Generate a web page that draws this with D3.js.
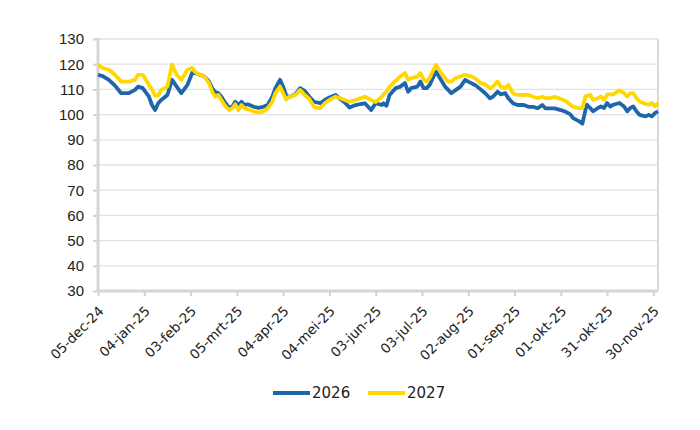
<!doctype html>
<html>
<head>
<meta charset="utf-8">
<title>2026 / 2027</title>
<script src="https://cdnjs.cloudflare.com/ajax/libs/d3/7.8.5/d3.min.js"></script>
<style>
  body { margin: 0; background: #fff; }
  text { font-family: "Liberation Sans", Arial, sans-serif; fill: #222; }
</style>
</head>
<body>
<div id="chartContainer"></div>

<script type="text/javascript">

// data
var dates = [
  "2024-12-05","2024-12-08","2024-12-12","2024-12-16","2024-12-20","2024-12-25","2024-12-29","2024-12-31",
  "2025-01-03","2025-01-07","2025-01-09","2025-01-11","2025-01-13","2025-01-15","2025-01-19","2025-01-22",
  "2025-01-25","2025-01-28","2025-02-01","2025-02-04","2025-02-06","2025-02-09","2025-02-12","2025-02-15",
  "2025-02-17","2025-02-19","2025-02-21","2025-02-23","2025-02-25","2025-02-28","2025-03-02","2025-03-04",
  "2025-03-06","2025-03-08","2025-03-10","2025-03-12","2025-03-16","2025-03-19","2025-03-22","2025-03-25",
  "2025-03-28","2025-03-30","2025-04-02","2025-04-04","2025-04-06","2025-04-08","2025-04-12","2025-04-15",
  "2025-04-18","2025-04-21","2025-04-24","2025-04-28","2025-05-01","2025-05-04","2025-05-08","2025-05-11",
  "2025-05-14","2025-05-17","2025-05-21","2025-05-24","2025-05-27","2025-05-31","2025-06-03","2025-06-07",
  "2025-06-08","2025-06-10","2025-06-12","2025-06-16","2025-06-19","2025-06-22","2025-06-24","2025-06-26",
  "2025-06-30","2025-07-02","2025-07-04","2025-07-06","2025-07-08","2025-07-12","2025-07-14","2025-07-16",
  "2025-07-18","2025-07-20","2025-07-22","2025-07-25","2025-07-28","2025-07-31","2025-08-02","2025-08-04",
  "2025-08-07","2025-08-10","2025-08-13","2025-08-16","2025-08-18","2025-08-21","2025-08-23","2025-08-26",
  "2025-08-28","2025-08-31","2025-09-03","2025-09-07","2025-09-10","2025-09-13","2025-09-16","2025-09-19",
  "2025-09-21","2025-09-24","2025-09-27","2025-10-01","2025-10-04","2025-10-07","2025-10-09","2025-10-13",
  "2025-10-15","2025-10-17","2025-10-18","2025-10-20","2025-10-22","2025-10-25","2025-10-27","2025-10-29",
  "2025-10-31","2025-11-02","2025-11-04","2025-11-08","2025-11-11","2025-11-13","2025-11-15","2025-11-17",
  "2025-11-19","2025-11-21","2025-11-25","2025-11-27","2025-11-29","2025-12-01","2025-12-03"
];

var values2026 = [
  115.8,115.3,113.8,111.5,108.5,108.5,109.8,111.1,
  110.5,107.1,103.8,101.8,104.5,105.8,107.8,113.8,
  111.1,108.5,111.8,116.5,116.5,115.8,115.1,113.1,
  110.5,108.9,108.5,107.1,105.1,102.7,103.1,105.1,
  103.8,105.1,103.8,104.1,103.1,102.7,103.1,103.8,
  107.1,110.5,113.8,111.1,107.5,107.0,108.1,110.5,
  109.4,107.1,105.1,104.5,105.8,106.8,107.8,106.2,
  104.8,102.8,103.8,104.2,104.5,101.8,104.5,103.8,
  104.5,103.5,107.8,110.5,111.1,112.5,109.1,110.5,
  111.1,113.1,110.5,110.5,111.8,117.1,115.1,113.1,
  111.1,109.8,108.5,109.8,111.1,113.8,113.1,112.5,
  111.5,110.0,108.5,106.5,107.1,109.1,108.0,108.5,
  106.5,104.5,103.8,103.8,103.1,103.1,102.5,103.8,
  102.5,102.5,102.5,101.8,101.1,100.2,98.6,97.3,
  96.4,101.9,103.9,102.6,101.3,102.6,103.2,102.6,
  104.6,103.2,103.9,104.6,103.2,101.3,102.6,103.2,
  101.3,99.9,99.3,99.9,99.3,100.6,101.3
];

var values2027 = [
  119.8,118.5,117.8,115.8,113.1,113.1,113.8,115.8,
  115.8,111.8,110.0,107.5,107.5,109.8,111.1,119.8,
  115.8,113.8,117.8,118.5,116.9,115.8,115.1,112.5,
  109.1,107.1,107.8,105.8,103.8,101.8,102.5,104.1,
  101.8,103.8,102.5,102.2,101.2,100.9,101.2,102.5,
  105.1,108.5,111.1,108.5,106.0,107.1,107.8,109.8,
  107.8,106.2,103.1,102.5,104.5,105.8,107.1,106.5,
  105.8,105.1,105.8,106.5,107.1,105.8,105.0,107.1,
  108.0,109.1,111.0,113.5,115.1,116.5,113.8,114.5,
  115.1,116.5,114.0,113.1,114.5,119.8,118.0,116.0,
  114.5,113.1,113.1,114.5,115.1,115.8,115.5,115.2,
  114.2,112.5,112.0,110.5,111.1,113.1,111.1,110.5,
  111.8,108.5,107.8,107.8,107.8,107.1,106.5,107.1,
  106.5,106.5,107.1,106.2,105.5,104.0,103.1,102.6,
  102.6,107.2,107.5,107.9,105.9,106.5,107.2,105.9,
  107.9,108.0,108.0,109.6,108.5,107.2,108.5,108.5,
  106.6,105.2,104.2,103.9,104.6,103.3,104.6
];

var seriesNames = ["2026", "2027"];
var seriesColors = ["#1f65a9", "#ffd800"];

var yTicks = [30, 40, 50, 60, 70, 80, 90, 100, 110, 120, 130];
var xTickDates = ["2024-12-05","2025-01-04","2025-02-03","2025-03-05","2025-04-04","2025-05-04","2025-06-03",
                  "2025-07-03","2025-08-02","2025-09-01","2025-10-01","2025-10-31","2025-11-30"];
var xTickLabels = ["05-dec-24","04-jan-25","03-feb-25","05-mrt-25","04-apr-25","04-mei-25","03-jun-25",
                   "03-jul-25","02-aug-25","01-sep-25","01-okt-25","31-okt-25","30-nov-25"];

function draw()
{
    var width = 700, height = 430;
    var plot = {left: 98, right: 658, top: 39, bottom: 291};

    var parse = d3.timeParse("%Y-%m-%d");

    var svg = d3.select("#chartContainer").append("svg")
                .attr("width", width)
                .attr("height", height);

    var x = d3.scaleTime()
              .domain([parse(dates[0]), parse(dates[dates.length - 1])])
              .range([plot.left, plot.right]);

    var y = d3.scaleLinear()
              .domain([30, 130])
              .range([plot.bottom, plot.top]);

    // horizontal gridlines
    svg.append("g")
        .selectAll("line")
        .data(yTicks)
        .enter().append("line")
        .attr("x1", plot.left)
        .attr("x2", plot.right)
        .attr("y1", function(d){ return y(d); })
        .attr("y2", function(d){ return y(d); })
        .style("stroke", "#e2e2e2")
        .style("stroke-width", 1.3);

    // right border of plot area
    svg.append("line")
        .attr("x1", plot.right).attr("x2", plot.right)
        .attr("y1", plot.top).attr("y2", plot.bottom)
        .style("stroke", "#dadada")
        .style("stroke-width", 2);

    // y axis
    var yAxis = svg.append("g")
        .attr("transform", "translate(" + plot.left + ",0)")
        .call(d3.axisLeft(y).tickValues(yTicks).tickSize(5).tickPadding(9));
    yAxis.select(".domain").remove();
    yAxis.selectAll(".tick line").style("stroke", "#d0d0d0").style("stroke-width", 2);
    yAxis.selectAll(".tick text")
        .style("font-size", "15px")
        .style("font-family", "'Liberation Sans', Arial, sans-serif")
        .style("fill", "#222");
    svg.append("line")
        .attr("x1", plot.left).attr("x2", plot.left)
        .attr("y1", plot.top - 1).attr("y2", plot.bottom + 1)
        .style("stroke", "#d6d6d6")
        .style("stroke-width", 3);

    // x axis
    var xAxis = svg.append("g")
        .attr("transform", "translate(0," + plot.bottom + ")")
        .call(d3.axisBottom(x)
              .tickValues(xTickDates.map(parse))
              .tickSize(5)
              .tickFormat(function(d, i){ return xTickLabels[i]; }));
    xAxis.select(".domain").remove();
    xAxis.selectAll(".tick line").style("stroke", "#d0d0d0").style("stroke-width", 2);
    xAxis.selectAll(".tick text")
        .attr("text-anchor", "end")
        .attr("y", 0)
        .attr("dy", 0)
        .attr("transform", "translate(6,21) rotate(-45)")
        .style("font-size", "13.5px")
        .style("font-family", "'DejaVu Sans', sans-serif")
        .style("fill", "#222");
    svg.append("line")
        .attr("x1", plot.left - 1).attr("x2", plot.right)
        .attr("y1", plot.bottom).attr("y2", plot.bottom)
        .style("stroke", "#d6d6d6")
        .style("stroke-width", 3);

    // lines
    var line = d3.line()
        .x(function(d){ return x(d.date); })
        .y(function(d){ return y(d.value); });

    var series = [values2026, values2027].map(function(vals, k){
        return {
            name: seriesNames[k],
            color: seriesColors[k],
            points: vals.map(function(v, i){ return {date: parse(dates[i]), value: v}; })
        };
    });

    svg.append("g")
        .selectAll("path")
        .data(series)
        .enter().append("path")
        .attr("d", function(s){ return line(s.points); })
        .style("fill", "none")
        .style("stroke", function(s){ return s.color; })
        .style("stroke-width", 3.8)
        .style("stroke-linejoin", "round");

    // legend
    var legend = svg.append("g").attr("transform", "translate(273,393)");
    var item = legend.selectAll("g")
        .data(series)
        .enter().append("g")
        .attr("transform", function(s, i){ return "translate(" + (i * 95) + ",0)"; });
    item.append("line")
        .attr("x1", 0).attr("x2", 37)
        .attr("y1", 0).attr("y2", 0)
        .style("stroke", function(s){ return s.color; })
        .style("stroke-width", 4);
    item.append("text")
        .attr("x", 39)
        .attr("y", 0)
        .attr("dy", "0.36em")
        .style("font-size", "15px")
        .style("font-family", "'DejaVu Sans', sans-serif")
        .text(function(s){ return s.name; });
}

draw();

</script>
</body>
</html>
